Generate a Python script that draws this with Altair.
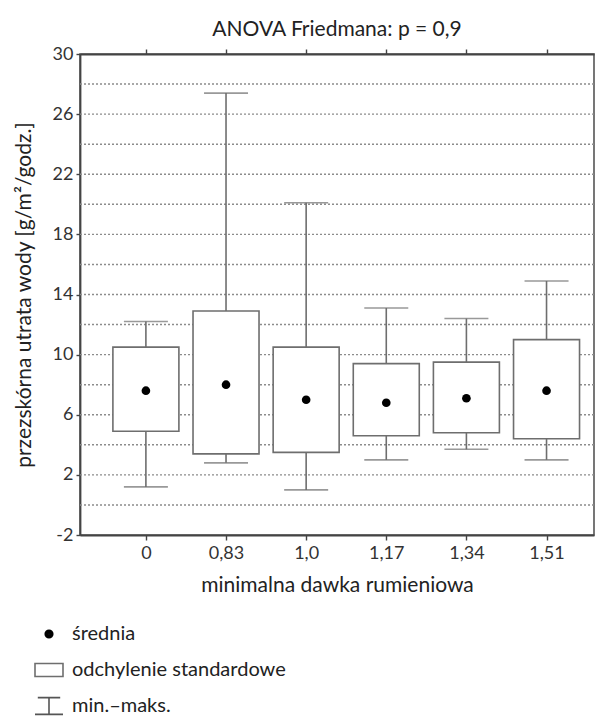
import json
import altair as alt
import pandas as pd

# ---- data ----
idx = [0, 1, 2, 3, 4, 5]
labels = ["0", "0,83", "1,0", "1,17", "1,34", "1,51"]
means = [7.6, 8.0, 7.0, 6.8, 7.1, 7.6]
sd_lo = [4.9, 3.4, 3.5, 4.6, 4.8, 4.4]
sd_hi = [10.5, 12.9, 10.5, 9.4, 9.5, 11.0]
mins = [1.2, 2.8, 1.0, 3.0, 3.7, 3.0]
maxs = [12.2, 27.4, 20.1, 13.1, 12.4, 14.9]

legend_items = ["średnia", "odchylenie standardowe", "min.–maks."]
y_ticks = list(range(-2, 31, 2))
grid_vals = list(range(0, 30, 2))

df = pd.DataFrame({"i": idx, "lab": labels, "mean": means, "lo": sd_lo,
                   "hi": sd_hi, "mn": mins, "mx": maxs})
leg = pd.DataFrame({"item": legend_items})
grid_df = pd.DataFrame({"g": grid_vals})

FONT = "Lato"
label_js = json.dumps(labels, ensure_ascii=False)

xscale = alt.Scale(domain=[-0.76, 5.53], nice=False, zero=False)
yscale = alt.Scale(domain=[-2, 30], nice=False, zero=False)

x_bottom = alt.X("i:Q", scale=xscale,
                 axis=alt.Axis(values=idx, labelExpr=f"{label_js}[datum.value]",
                               title="minimalna dawka rumieniowa", grid=False,
                               orient="bottom", tickSize=5, labelPadding=4,
                               titlePadding=12))
y_axis = alt.Y("mx:Q", scale=yscale,
               axis=alt.Axis(values=y_ticks,
                             labelExpr="(datum.value + 2) % 4 == 0 ? '' + datum.value : ''",
                             title="przezskórna utrata wody [g/m²/godz.]",
                             grid=False, tickSize=4, labelPadding=3,
                             titlePadding=18))

base = alt.Chart(df)

grid = alt.Chart(grid_df).mark_rule(color="#8c8c8c", strokeWidth=1.4,
                                    strokeDash=[2, 2]).encode(
    y=alt.Y("g:Q", scale=yscale))

whisk = base.mark_rule(color="#6e6e6e", strokeWidth=1.6).encode(
    x=x_bottom, y=y_axis, y2="mn:Q")

caps_max = base.mark_tick(orient="horizontal", size=44, thickness=1.6,
                          color="#6e6e6e").encode(x="i:Q", y="mx:Q")
caps_min = base.mark_tick(orient="horizontal", size=44, thickness=1.6,
                          color="#6e6e6e").encode(x="i:Q", y="mn:Q")

boxes = base.mark_bar(size=66, fill="white", stroke="#6e6e6e",
                      strokeWidth=1.6).encode(x="i:Q", y="hi:Q", y2="lo:Q")

dots = base.mark_circle(size=75, color="black", opacity=1).encode(
    x="i:Q", y="mean:Q")

# legend symbols: a solid dot (concentric rings), an open rectangle, an I-beam
dot_path = ("M-0.27,0A0.27,0.27 0 1,0 0.27,0A0.27,0.27 0 1,0 -0.27,0Z"
            "M-0.17,0A0.17,0.17 0 1,0 0.17,0A0.17,0.17 0 1,0 -0.17,0Z"
            "M-0.07,0A0.07,0.07 0 1,0 0.07,0A0.07,0.07 0 1,0 -0.07,0Z")
rect_path = "M-1,-0.46H1V0.46H-1Z"
ibeam_path = "M-0.8,-0.6H0.8M0,-0.6V0.6M-1,0.6H1"

legend_layer = alt.Chart(leg).mark_point(opacity=0, filled=False).encode(
    stroke=alt.Stroke("item:N",
                      scale=alt.Scale(domain=legend_items,
                                      range=["black", "#6e6e6e", "#555555"]),
                      legend=alt.Legend(title=None, orient="none", legendX=-46,
                                        legendY=565, symbolSize=784,
                                        symbolStrokeWidth=1.6, symbolOpacity=1,
                                        labelFont=FONT, labelFontSize=20,
                                        labelColor="#222", labelOffset=8,
                                        rowPadding=11, labelLimit=500)),
    shape=alt.Shape("item:N",
                    scale=alt.Scale(domain=legend_items,
                                    range=[dot_path, rect_path, ibeam_path]),
                    legend=alt.Legend(title=None)),
)

inner = alt.layer(grid, whisk, caps_max, caps_min, boxes, dots, legend_layer)

top_axis = base.mark_rule(opacity=0).encode(
    x=alt.X("i:Q", scale=xscale,
            axis=alt.Axis(values=idx, labels=False, title=None, orient="top",
                          grid=False, tickSize=5)),
    y="mx:Q")

chart = alt.layer(inner, top_axis).resolve_axis(x="independent").properties(
    width=514, height=481,
    padding={"top": 11, "left": 5, "right": 0, "bottom": 0},
    title=alt.TitleParams("ANOVA Friedmana: p = 0,9", font=FONT, fontSize=21,
                          fontWeight="normal", color="#222", offset=5),
).configure_view(stroke="#555555", strokeWidth=1.6).configure_axis(
    labelFont=FONT, titleFont=FONT, labelFontSize=18, titleFontSize=21,
    titleFontWeight="normal", labelColor="#333", titleColor="#222",
    domainColor="#444", domainWidth=1.8, tickColor="#444", tickWidth=1.4,
)

chart.save("out.html", embed_options={"renderer": "svg", "actions": False})
